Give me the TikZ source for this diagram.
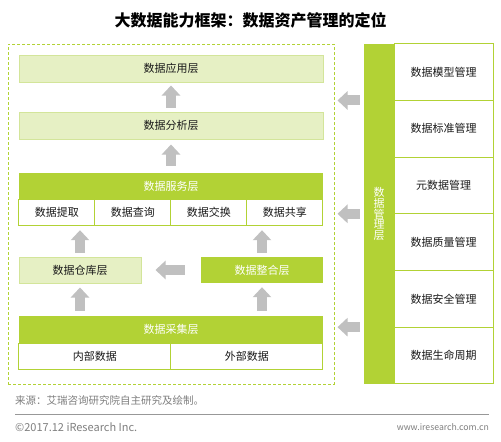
\documentclass[tikz,border=0pt]{standalone}
\usepackage{fontspec}
\setmainfont{Noto Sans CJK SC}
\usetikzlibrary{arrows.meta,positioning}
\definecolor{irgreen}{HTML}{B2D235}
\definecolor{irlight}{HTML}{E6F0C4}
\definecolor{irlightline}{HTML}{D3E59A}
\definecolor{irgray}{HTML}{C0C0C0}
\definecolor{irtext}{HTML}{1A1A1A}
\definecolor{irfoot}{HTML}{7F7F7F}
\tikzset{
  title/.style={font=\bfseries\fontsize{16}{18}\selectfont, text=black},
  frame/.style={
    draw=irgreen, line width=1pt, dash pattern=on 3pt off 2pt,
    minimum width=326pt, minimum height=340pt
  },
  lightlayer/.style={
    draw=irlightline, line width=1pt, fill=irlight, text=irtext,
    minimum width=304pt, minimum height=27pt, inner sep=0pt,
    font=\fontsize{11}{13}\selectfont
  },
  greenlayer/.style={
    fill=irgreen, text=white, minimum height=26pt, inner sep=0pt,
    font=\fontsize{11}{13}\selectfont
  },
  cell/.style={
    draw=irgreen, line width=0.8pt, fill=white, text=irtext,
    minimum height=26pt, inner sep=0pt, outer sep=0pt,
    font=\fontsize{11}{13}\selectfont
  },
  mcell/.style={cell, minimum width=99pt, minimum height=56.67pt},
  foot/.style={text=irfoot, inner sep=0pt, font=\fontsize{10.5}{12}\selectfont},
  blockarr/.style={
    draw=irgray, line width=10pt,
    -{Triangle[length=10pt, width=18pt]},
    shorten <=4pt, shorten >=3pt
  }
}
\begin{document}
\begin{tikzpicture}[x=1pt, y=-1pt]
\useasboundingbox[fill=white] (0,0) rectangle (501,442);

% ---------- title ----------
\node[title] (ttl) at (250.5,20) {大数据能力框架：数据资产管理的定位};

% ---------- layered framework ----------
\node[frame] (frm) at (171,214) {};

\node[lightlayer] (app) at (171,68.5) {数据应用层};
\node[lightlayer] (ana) at (171,125.5) {数据分析层};

\node[greenlayer, minimum width=304pt] (svc) at (171,186) {数据服务层};
\node[cell, minimum width=76pt, below right=0pt of svc.south west] (s1) {数据提取};
\node[cell, minimum width=76pt, right=0pt of s1] (s2) {数据查询};
\node[cell, minimum width=76pt, right=0pt of s2] (s3) {数据交换};
\node[cell, minimum width=76pt, right=0pt of s3] (s4) {数据共享};

\node[lightlayer, minimum width=122pt, minimum height=26pt] (wh) at (80,270) {数据仓库层};
\node[greenlayer, minimum width=122pt] (intg) at (262,270) {数据整合层};

\node[greenlayer, minimum width=304pt, minimum height=27pt] (col) at (171,329.5) {数据采集层};
\node[cell, minimum width=152pt, below right=0pt of col.south west] (c1) {内部数据};
\node[cell, minimum width=152pt, right=0pt of c1] (c2) {外部数据};

\draw[blockarr] (ana) -- (app);
\draw[blockarr, shorten <=7pt, shorten >=5pt] (svc) -- (ana);
\draw[blockarr, shorten >=5pt] (wh) -- (wh |- s1.south);
\draw[blockarr, shorten >=5pt] (intg) -- (intg |- s4.south);
\draw[blockarr, shorten <=16pt, shorten >=14pt] (intg) -- (wh);
\draw[blockarr, shorten <=5pt, shorten >=4pt] (wh |- col.north) -- (wh);
\draw[blockarr, shorten <=5pt, shorten >=4pt] (intg |- col.north) -- (intg);

% ---------- management column ----------
\node[greenlayer, minimum width=30pt, minimum height=340pt, align=center,
      font=\fontsize{11}{10.8}\selectfont] (mbar) at (379,214)
  {数\\据\\管\\理\\层};
\node[mcell, below right=0pt of mbar.north east] (m1) {数据模型管理};
\node[mcell, below=0pt of m1] (m2) {数据标准管理};
\node[mcell, below=0pt of m2] (m3) {元数据管理};
\node[mcell, below=0pt of m3] (m4) {数据质量管理};
\node[mcell, below=0pt of m4] (m5) {数据安全管理};
\node[mcell, below=0pt of m5] (m6) {数据生命周期};

\draw[blockarr] (mbar.west |- m1.south) -- (frm.east |- m1.south);
\draw[blockarr] (mbar.west |- m3.south) -- (frm.east |- m3.south);
\draw[blockarr] (mbar.west |- m5.south) -- (frm.east |- m5.south);

% ---------- footer ----------
\node[foot, anchor=west] (src) at (15,401) {来源：艾瑞咨询研究院自主研究及绘制。};
\draw[irfoot!80, line width=0.8pt] (15,414) -- (489,414);
\node[foot, anchor=west, font=\fontsize{11}{12}\selectfont] (cpy) at (15,427) {©2017.12 iResearch Inc.};
\node[foot, anchor=east, font=\fontsize{8.7}{12}\selectfont] (web) at (489,427) {www.iresearch.com.cn};

\end{tikzpicture}
\end{document}
